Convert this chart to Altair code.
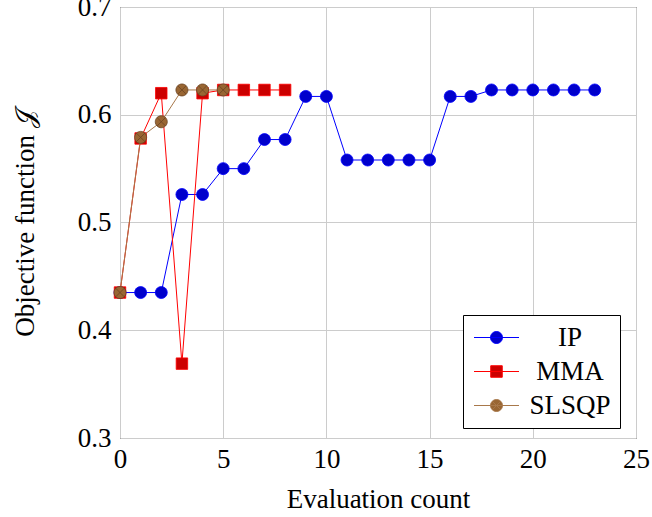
import altair as alt
import pandas as pd

# ---- data ----
ip_x = list(range(24))
ip_y = [0.435, 0.435, 0.435, 0.526, 0.526, 0.550, 0.550, 0.577, 0.577, 0.617,
        0.617, 0.558, 0.558, 0.558, 0.558, 0.558, 0.617, 0.617, 0.623, 0.623,
        0.623, 0.623, 0.623, 0.623]
mma_x = list(range(9))
mma_y = [0.435, 0.578, 0.620, 0.369, 0.620, 0.623, 0.623, 0.623, 0.623]
slsqp_x = list(range(6))
slsqp_y = [0.435, 0.579, 0.5935, 0.623, 0.623, 0.623]

series_names = ["IP", "MMA", "SLSQP"]
line_colors = ["#0000ff", "#ff0000", "#a8784a"]
marker_strokes = ["#0000ff", "#ff0000", "#6b4423"]
fill_colors = ["#0000cc", "#cc0000", "#996633"]

x_ticks = [0, 5, 10, 15, 20, 25]
y_ticks = [0.3, 0.4, 0.5, 0.6, 0.7]

FONT = "Liberation Serif, DejaVu Serif, DejaVu Sans, serif"
FS = 27

OTIMES = "M1,0A1,1 0 1,1 -1,0A1,1 0 1,1 1,0Z M-0.707,-0.707L0.707,0.707 M-0.707,0.707L0.707,-0.707"
marker_shapes = ["circle", "square", OTIMES]
marker_sizes = [144, 132, 144]

# legend symbols: line segment + marker (unit = 12 px)
L = "M-1.875,0L1.875,0 "
legend_paths = [
    L + "M0.5,0A0.5,0.5 0 1,1 -0.5,0A0.5,0.5 0 1,1 0.5,0Z",
    L + "M-0.48,-0.48L0.48,-0.48L0.48,0.48L-0.48,0.48Z",
    L + "M0.5,0A0.5,0.5 0 1,1 -0.5,0A0.5,0.5 0 1,1 0.5,0Z M-0.354,-0.354L0.354,0.354 M-0.354,0.354L0.354,-0.354",
]


def frame(xs, ys, name):
    return pd.DataFrame({"x": xs, "y": ys, "series": name})


dfs = [frame(ip_x, ip_y, "IP"), frame(mma_x, mma_y, "MMA"), frame(slsqp_x, slsqp_y, "SLSQP")]
all_df = pd.concat(dfs, ignore_index=True)

xenc = alt.X("x:Q", scale=alt.Scale(domain=[0, 25], nice=False, zero=False),
             axis=alt.Axis(values=x_ticks, title="Evaluation count", format="d",
                           labelPadding=8, labelFlush=False, titleY=69, titleBaseline="alphabetic"))
yenc = alt.Y("y:Q", scale=alt.Scale(domain=[0.3, 0.7], nice=False, zero=False),
             axis=alt.Axis(values=y_ticks, format=".1f", title="Objective function 𝒥",
                           labelPadding=9, labelFlush=False, titleX=-95, titleBaseline="middle"))

layers = []
for i, d in enumerate(dfs):
    layers.append(alt.Chart(d).mark_line(color=line_colors[i], strokeWidth=1).encode(x=xenc, y=yenc))
    layers.append(alt.Chart(d).mark_point(filled=True, fill=fill_colors[i], stroke=marker_strokes[i],
                                          strokeWidth=0.8, shape=marker_shapes[i],
                                          size=marker_sizes[i], opacity=1, fillOpacity=1)
                  .encode(x=xenc, y=yenc))

leg = alt.Legend(orient="none", legendX=343, legendY=308, title=None,
                 fillColor="white", strokeColor="black", padding=9,
                 symbolSize=576, symbolOffset=11, labelOffset=60, labelAlign="center",
                 labelFont=FONT, labelFontSize=FS, labelColor="black", rowPadding=6,
                 symbolOpacity=1, symbolStrokeWidth=1)

legend_layer = alt.Chart(all_df).mark_point(filled=True, opacity=0).encode(
    x=xenc, y=yenc,
    fill=alt.Fill("series:N", scale=alt.Scale(domain=series_names, range=fill_colors), legend=leg),
    stroke=alt.Stroke("series:N", scale=alt.Scale(domain=series_names, range=line_colors), legend=leg),
    shape=alt.Shape("series:N", scale=alt.Scale(domain=series_names, range=legend_paths), legend=leg),
)

chart = alt.layer(*layers, legend_layer).properties(
    width=516, height=431,
    background="white",
    autosize=alt.AutoSizeParams(type="none"),
    padding={"left": 120, "top": 7, "right": 16, "bottom": 79},
).configure_view(stroke="black", strokeWidth=1).configure_axis(
    grid=True, gridColor="#cccccc", gridWidth=1, domain=False, ticks=False, tickSize=0,
    labelFont=FONT, labelFontSize=FS, labelColor="black",
    titleFont=FONT, titleFontSize=FS, titleFontWeight="normal", titleColor="black",
)

chart.save("out.html", embed_options={"renderer": "svg", "actions": False})
